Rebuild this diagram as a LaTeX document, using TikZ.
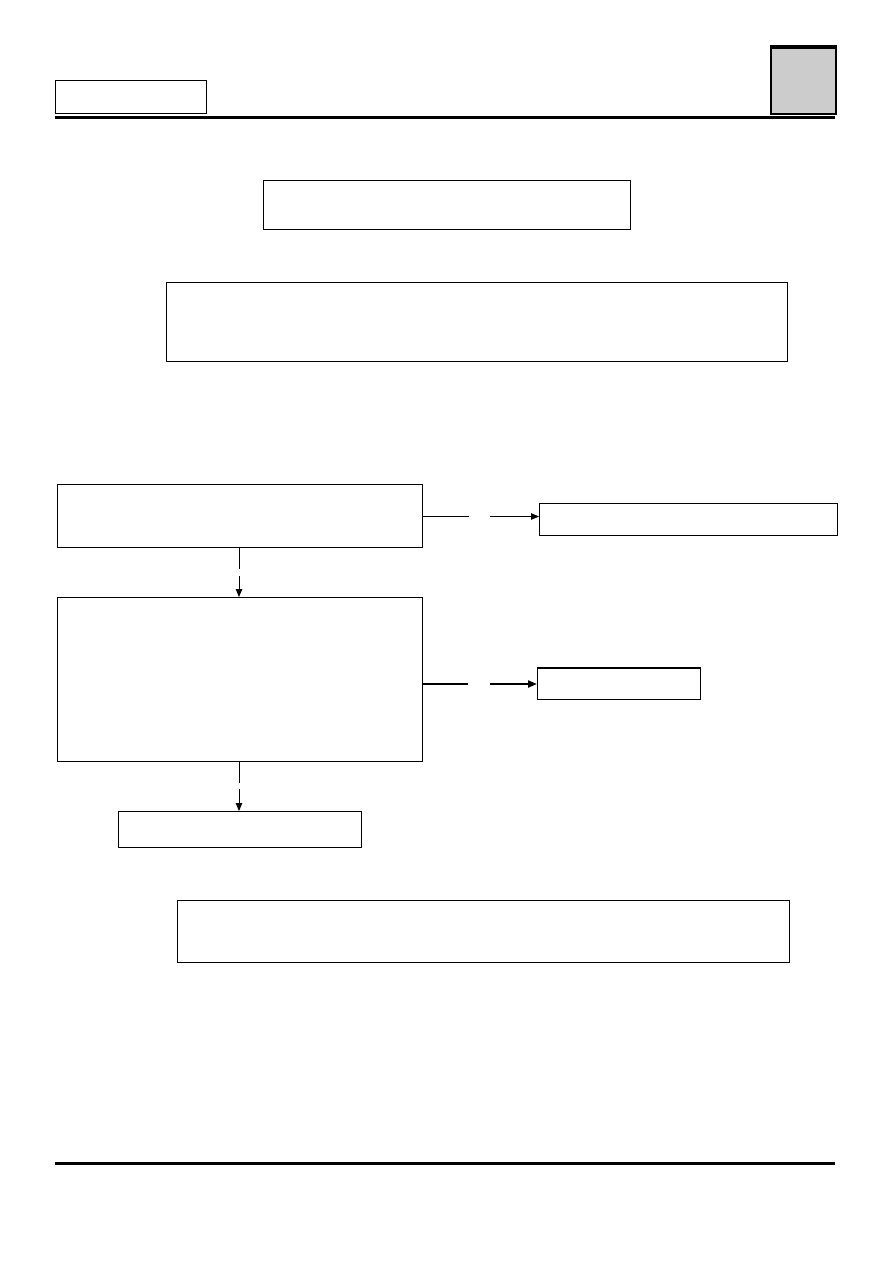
\documentclass[tikz,border=0pt]{standalone}
\usetikzlibrary{arrows.meta}
\begin{document}
\begin{tikzpicture}[x=1pt,y=-1pt,
  bx/.style={draw,line width=1pt,inner sep=0pt},
  conn/.style={line width=0.9pt,-{Triangle[length=8pt,width=6.5pt]}},
  thickconn/.style={line width=2pt,-{Triangle[length=9pt,width=7pt]}}]
\useasboundingbox (0,0) rectangle (893,1263);
% header
\node[bx,minimum width=151pt,minimum height=33pt,anchor=north west] (hdr) at (55,80) {};
\node[draw,line width=1.8pt,fill=black!20,minimum width=65pt,minimum height=66pt,anchor=north west,inner sep=0pt] (tab) at (770,47) {};
\draw[line width=3pt] (tab.north west) -- (tab.north east);
\coordinate (r1a) at (55,117); \coordinate (r1b) at (835,117);
\draw[line width=3pt] (r1a) -- (r1b);
% boxes
\node[bx,minimum width=367pt,minimum height=49pt,anchor=north west] (A) at (263,180) {};
\node[bx,minimum width=621pt,minimum height=79pt,anchor=north west] (B) at (166,282) {};
\node[bx,minimum width=365pt,minimum height=63pt,anchor=north west] (C) at (57,484) {};
\node[bx,minimum width=298pt,minimum height=32pt,anchor=north west] (D) at (539,503) {};
\node[bx,minimum width=365pt,minimum height=164pt,anchor=north west] (E) at (57,597) {};
\node[bx,minimum width=163pt,minimum height=31pt,anchor=north west] (F) at (537,668) {};
\draw[line width=2pt] (F.north west) -- (F.north east);
\node[bx,minimum width=243pt,minimum height=36pt,anchor=north west] (G) at (118,811) {};
\node[bx,minimum width=612pt,minimum height=62pt,anchor=north west] (H) at (177,900) {};
% connectors
\coordinate (Din) at ([yshift=3pt]D.west);
\draw[conn,dash pattern=on 46pt off 21pt on 60pt] (C.east |- Din) -- (Din);
\draw[thickconn,dash pattern=on 45pt off 22pt on 60pt] (E.east |- F.west) -- (F.west);
\draw[conn,dash pattern=on 21pt off 7pt on 40pt] (C.south -| 239,0) -- (E.north -| 239,0);
\draw[conn,dash pattern=on 21pt off 6pt on 40pt] (E.south -| 239,0) -- (G.north -| 239,0);
% footer rule
\coordinate (r2a) at (55,1163); \coordinate (r2b) at (835,1163);
\draw[line width=3pt] (r2a) -- (r2b);
\end{tikzpicture}
\end{document}
